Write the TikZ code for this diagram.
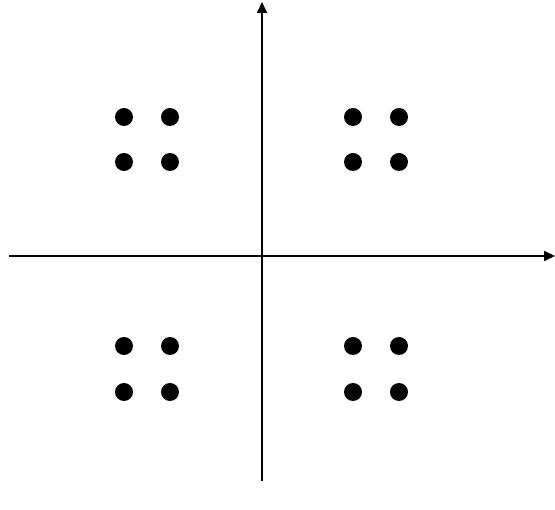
\documentclass[tikz,border=0pt]{standalone}
\usetikzlibrary{arrows.meta}

\tikzset{
    axis/.style={line width=2pt, -{Triangle[length=11pt, width=10pt]}},
    symbol/.style={circle, fill=black, inner sep=0pt, minimum size=18pt}
}

\begin{document}
\begin{tikzpicture}[x=1pt, y=-1pt]
    \useasboundingbox (0,0) rectangle (555,510);

    % Axes
    \coordinate (xstart) at (9,256);
    \coordinate (xend) at (555,256);
    \coordinate (ystart) at (262,481);
    \coordinate (yend) at (262,2);
    \draw[axis] (xstart) -- (xend);
    \draw[axis] (ystart) -- (yend);

    % Constellation points
    \foreach \x/\i in {124/1, 170/2, 353/3, 399/4} {
        \foreach \y/\j in {117/1, 162/2, 346/3, 392/4} {
            \node[symbol] (p\i\j) at (\x,\y) {};
        }
    }

\end{tikzpicture}
\end{document}
